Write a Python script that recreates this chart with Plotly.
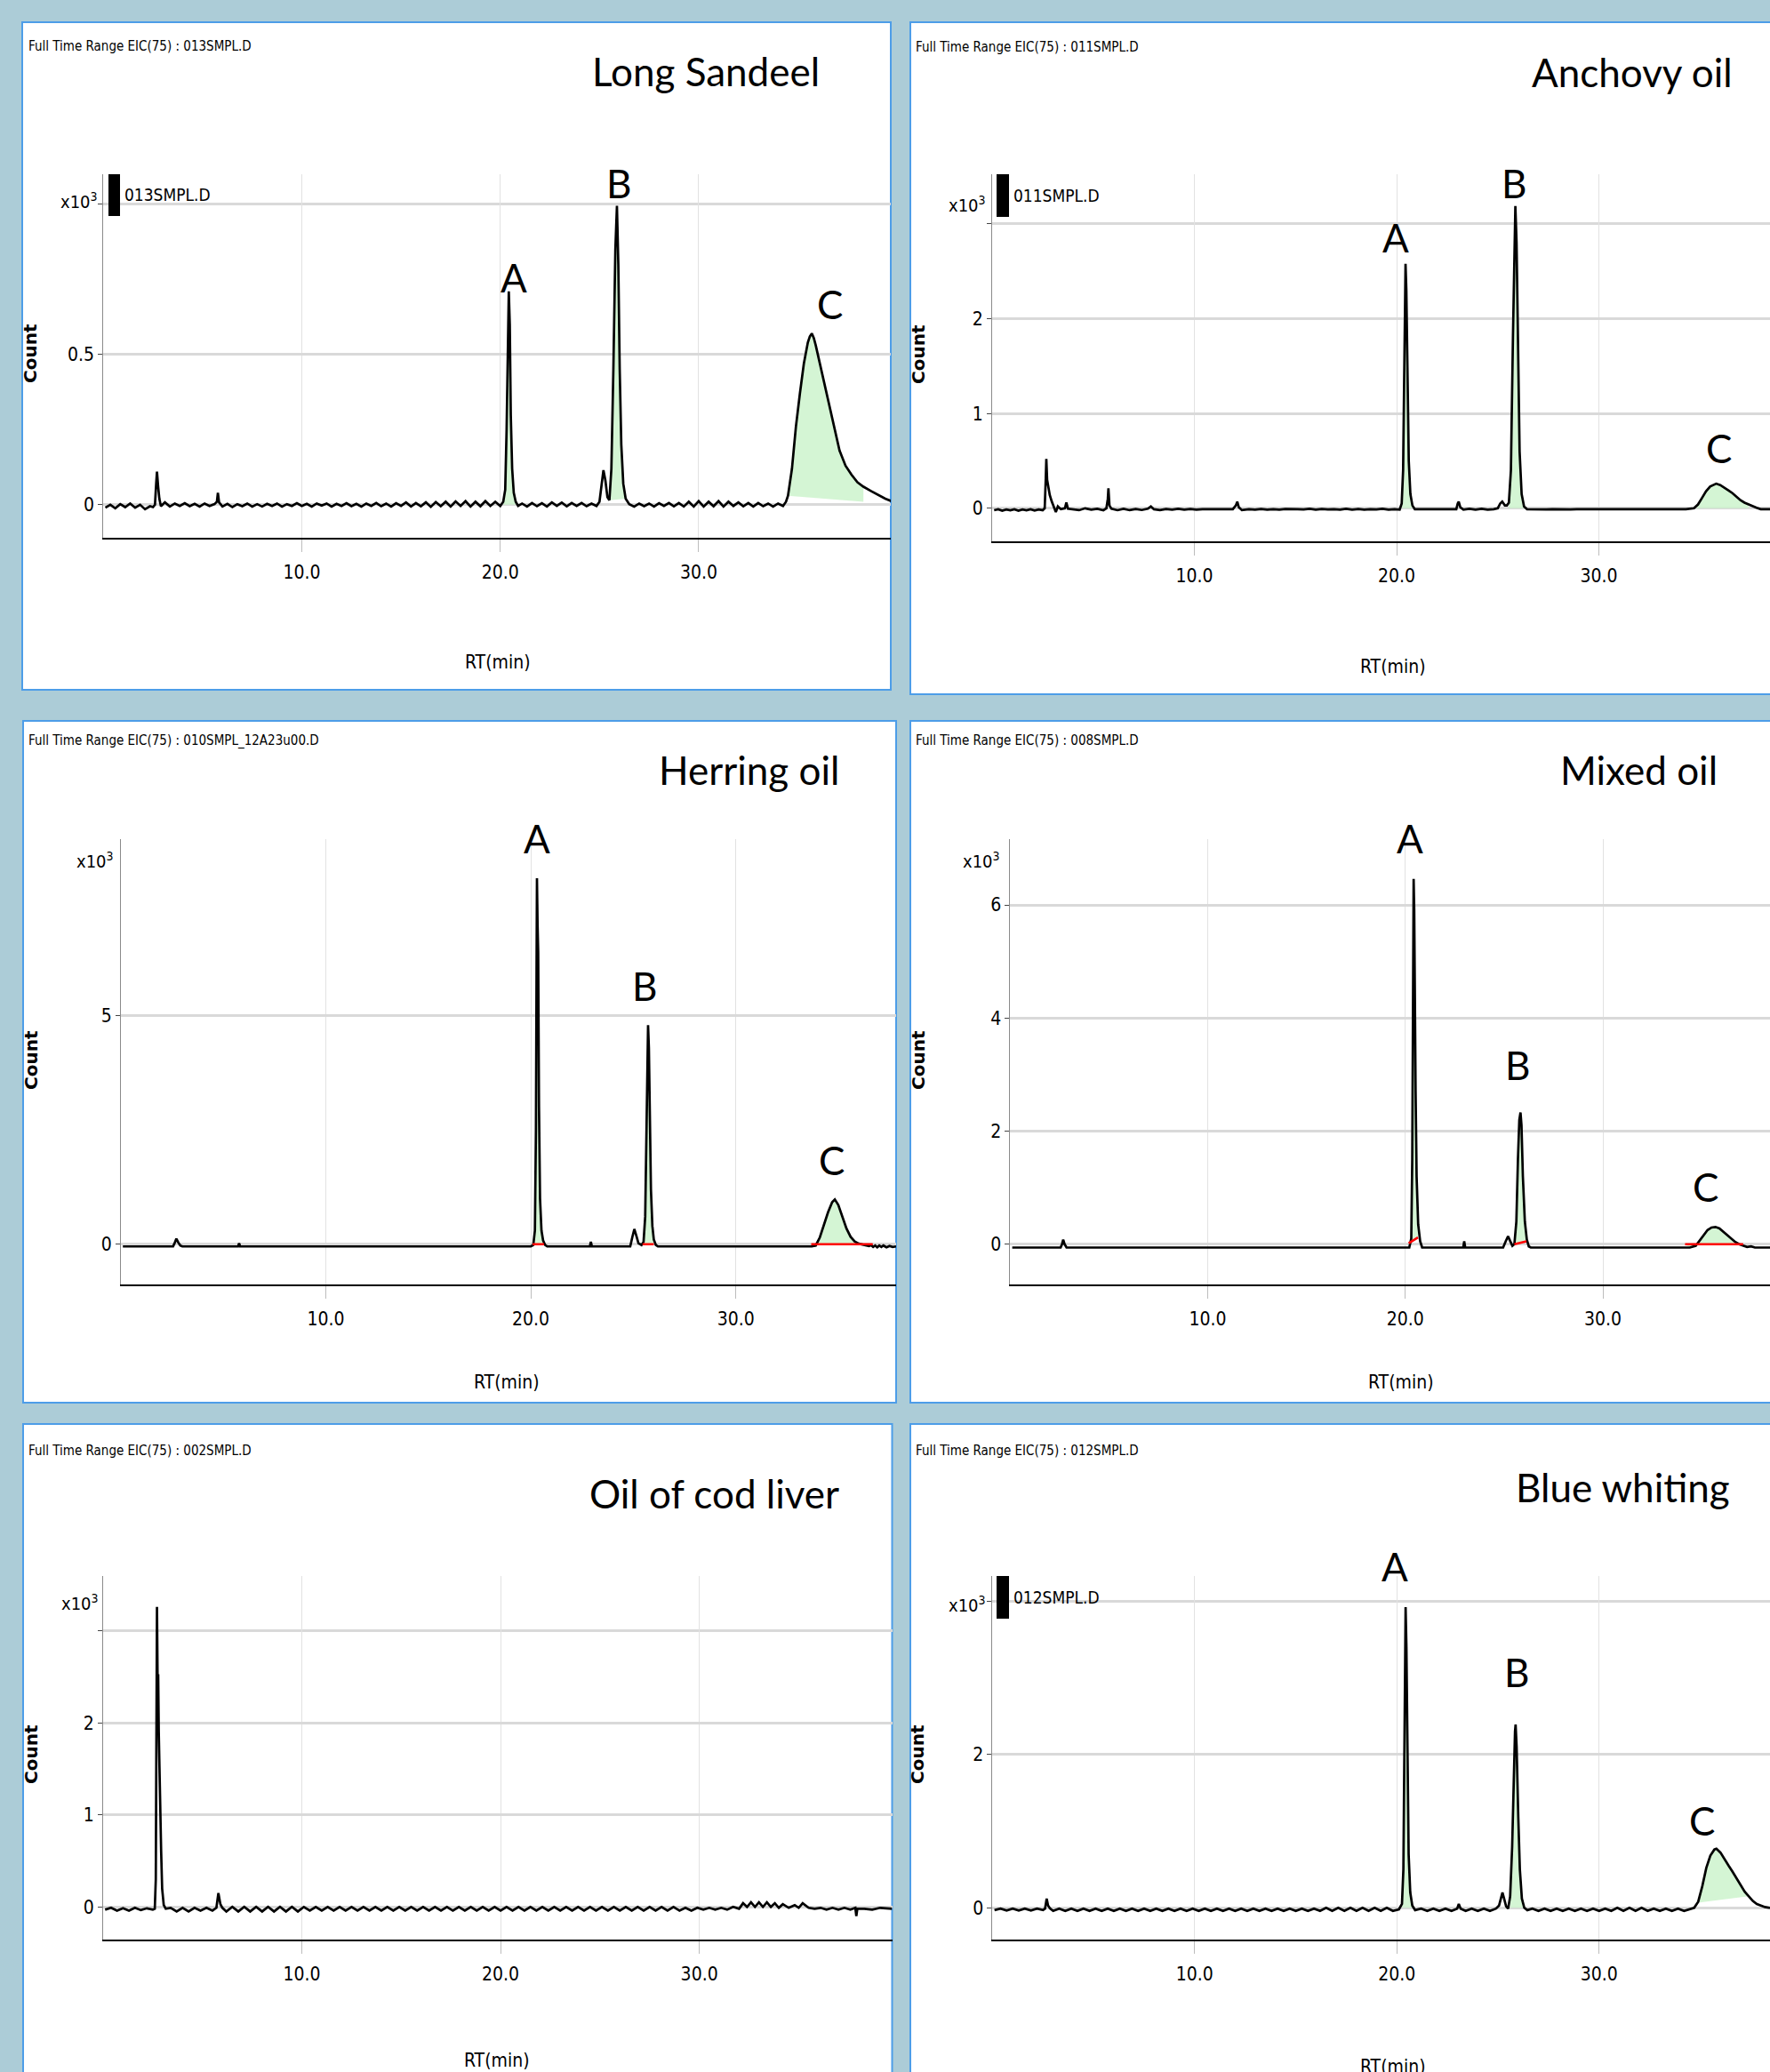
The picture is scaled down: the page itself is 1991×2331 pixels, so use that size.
import plotly.graph_objects as go

W, H = 1991, 2331

# ---------------- data (RT in min, count in x10^3) ----------------
long_sandeel = [
    (0.1,-0.01),(0.35,0.0),(0.6,-0.012),(0.85,0.002),(1.1,-0.008),(1.35,0.004),(1.6,-0.01),(1.85,0.0),(2.1,-0.015),(2.35,-0.005),(2.5,-0.008),
    (2.6,0.0),(2.66,0.07),(2.7,0.11),(2.76,0.06),(2.82,0.02),(2.9,-0.005),(3.1,0.008),(3.35,-0.006),(3.6,0.004),(3.85,-0.004),(4.1,0.005),
    (4.35,-0.005),(4.6,0.003),(4.85,-0.006),(5.1,0.004),(5.35,-0.004),(5.6,0.002),(5.72,0.01),(5.77,0.04),(5.83,0.008),(6.0,-0.006),
    (6.25,0.003),(6.5,-0.008),(6.75,0.002),(7.0,-0.005),(7.25,0.004),(7.5,-0.006),(7.75,0.002),(8.0,-0.006),(8.25,0.003),(8.5,-0.004),
    (8.75,0.004),(9.0,-0.006),(9.25,0.002),(9.5,-0.004),(9.75,0.005),(10.0,-0.004),(10.25,0.003),(10.5,-0.006),(10.75,0.004),(11.0,-0.003),
    (11.25,0.004),(11.5,-0.006),(11.75,0.003),(12.0,-0.004),(12.25,0.005),(12.5,-0.005),(12.75,0.003),(13.0,-0.006),(13.25,0.004),
    (13.5,-0.004),(13.75,0.006),(14.0,-0.005),(14.25,0.004),(14.5,-0.006),(14.75,0.005),(15.0,-0.004),(15.25,0.008),(15.5,-0.006),
    (15.75,0.006),(16.0,-0.005),(16.25,0.008),(16.5,-0.007),(16.75,0.009),(17.0,-0.005),(17.25,0.01),(17.5,-0.006),(17.75,0.011),
    (18.0,-0.004),(18.25,0.012),(18.5,-0.006),(18.75,0.01),(19.0,-0.005),(19.25,0.012),(19.5,-0.004),(19.75,0.01),(20.0,-0.004),
    (20.15,0.01),(20.25,0.05),(20.32,0.25),(20.38,0.55),(20.43,0.71),(20.48,0.6),(20.53,0.3),(20.6,0.12),(20.68,0.04),(20.78,0.01),
    (20.9,-0.004),(21.1,0.004),(21.35,-0.006),(21.6,0.006),(21.85,-0.005),(22.1,0.005),(22.35,-0.006),(22.6,0.008),(22.85,-0.004),
    (23.1,0.007),(23.35,-0.005),(23.6,0.006),(23.85,-0.004),(24.1,0.006),(24.35,-0.005),(24.6,0.004),(24.85,-0.004),
    (25.0,0.01),(25.1,0.06),(25.2,0.115),(25.3,0.08),(25.4,0.025),(25.5,0.015),(25.6,0.12),(25.7,0.45),(25.8,0.85),(25.88,0.995),
    (25.95,0.8),(26.02,0.45),(26.1,0.2),(26.2,0.07),(26.32,0.02),(26.5,0.002),(26.75,-0.006),(27.0,0.004),(27.25,-0.005),(27.5,0.004),
    (27.75,-0.006),(28.0,0.005),(28.25,-0.004),(28.5,0.006),(28.75,-0.005),(29.0,0.006),(29.25,-0.006),(29.5,0.01),(29.75,-0.006),
    (30.0,0.012),(30.25,-0.006),(30.5,0.01),(30.75,-0.005),(31.0,0.012),(31.25,-0.006),(31.5,0.01),(31.75,-0.004),(32.0,0.008),
    (32.25,-0.005),(32.5,0.006),(32.75,-0.006),(33.0,0.006),(33.25,-0.005),(33.5,0.004),(33.75,-0.006),(34.0,0.004),(34.25,-0.004),
    (34.4,0.01),(34.5,0.03),(34.7,0.12),(34.9,0.26),(35.1,0.37),(35.3,0.47),(35.5,0.54),(35.6,0.56),(35.7,0.57),(35.8,0.555),
    (35.9,0.53),(36.1,0.47),(36.3,0.41),(36.5,0.35),(36.7,0.29),(36.9,0.23),(37.1,0.18),(37.4,0.13),(37.7,0.1),(38.0,0.075),
    (38.3,0.06),(38.7,0.045),(39.1,0.03),(39.4,0.02),(39.7,0.012),
]

anchovy_oil = [
    (0.1,-0.02),(0.3,-0.01),(0.5,-0.025),(0.7,-0.012),(0.9,-0.022),(1.1,-0.01),(1.3,-0.025),(1.5,-0.012),(1.7,-0.022),(1.9,-0.01),
    (2.1,-0.024),(2.3,-0.012),(2.5,-0.02),(2.6,0.0),(2.65,0.3),(2.68,0.52),(2.72,0.3),(2.78,0.22),(2.85,0.14),(2.95,0.07),(3.05,0.02),
    (3.15,-0.04),(3.25,0.02),(3.4,-0.01),(3.6,0.0),(3.67,0.06),(3.75,-0.005),(4.0,-0.01),(4.3,-0.02),(4.6,0.0),(4.9,-0.015),(5.2,-0.005),
    (5.5,-0.02),(5.65,0.0),(5.72,0.1),(5.75,0.21),(5.8,0.03),(5.9,-0.005),(6.2,-0.02),(6.5,-0.005),(6.8,-0.02),(7.1,-0.008),(7.4,-0.018),
    (7.7,-0.005),(7.85,0.02),(8.0,-0.01),(8.3,-0.02),(8.6,-0.008),(8.9,-0.015),(9.2,-0.005),(9.5,-0.015),(9.8,-0.008),(10.1,-0.015),
    (10.4,-0.01),(10.7,-0.01),(11.0,-0.01),(11.3,-0.012),(11.6,-0.01),(11.9,-0.01),(12.05,0.03),(12.12,0.07),(12.2,0.01),(12.35,-0.02),
    (12.7,-0.01),(13.0,-0.015),(13.3,-0.008),(13.6,-0.015),(13.9,-0.01),(14.2,-0.015),(14.5,-0.008),(14.8,-0.012),(15.1,-0.01),
    (15.4,-0.012),(15.7,-0.006),(16.0,-0.015),(16.3,-0.008),(16.6,-0.012),(16.9,-0.01),(17.2,-0.015),(17.5,-0.006),(17.8,-0.015),
    (18.1,-0.008),(18.4,-0.015),(18.7,-0.01),(19.0,-0.012),(19.3,-0.006),(19.6,-0.015),(19.9,-0.01),(20.15,-0.015),
    (20.25,0.05),(20.32,0.4),(20.37,1.6),(20.41,2.45),(20.44,2.58),(20.48,2.3),(20.53,1.3),(20.6,0.5),(20.68,0.15),(20.78,0.03),
    (20.9,-0.01),(21.2,-0.01),(21.5,-0.012),(21.8,-0.008),(22.1,-0.012),(22.4,-0.01),(22.7,-0.012),(22.95,-0.01),(23.02,0.05),
    (23.07,0.07),(23.15,0.01),(23.3,-0.015),(23.6,-0.005),(23.9,-0.015),(24.2,-0.005),(24.5,-0.015),(24.8,-0.01),
    (25.0,0.0),(25.12,0.05),(25.22,0.07),(25.35,0.03),(25.45,0.03),(25.55,0.06),(25.65,0.4),(25.75,1.8),(25.82,2.9),(25.87,3.19),
    (25.93,2.8),(26.0,1.6),(26.08,0.6),(26.18,0.15),(26.3,0.02),(26.45,-0.01),(26.8,-0.012),(27.1,-0.008),(27.4,-0.012),(27.7,-0.01),
    (28.0,-0.012),(28.3,-0.008),(28.6,-0.012),(28.9,-0.01),(29.2,-0.01),(29.5,-0.01),(29.8,-0.01),(30.1,-0.01),(30.4,-0.01),
    (30.7,-0.012),(31.0,-0.008),(31.3,-0.012),(31.6,-0.01),(31.9,-0.012),(32.2,-0.01),(32.5,-0.01),(32.8,-0.01),(33.1,-0.012),
    (33.4,-0.01),(33.7,-0.01),(34.0,-0.012),(34.3,-0.01),
    (34.7,0.0),(34.9,0.04),(35.1,0.11),(35.3,0.18),(35.5,0.23),(35.7,0.255),(35.8,0.26),(36.0,0.245),(36.2,0.22),(36.4,0.19),
    (36.6,0.16),(36.8,0.12),(37.0,0.085),(37.2,0.06),(37.4,0.04),(37.6,0.02),(37.8,0.005),(38.0,-0.01),(38.2,-0.01),(38.46,-0.01),
]

herring_oil = [
    (0.1,-0.05),(2.55,-0.05),(2.62,0.02),(2.71,0.12),(2.8,0.04),(2.9,-0.03),(3.0,-0.05),(5.72,-0.05),(5.77,0.02),(5.82,-0.05),
    (20.0,-0.05),(20.12,-0.02),(20.2,0.3),(20.25,2.5),(20.28,6.0),(20.3,8.02),(20.33,7.0),(20.36,6.4),(20.4,3.0),(20.45,1.0),
    (20.52,0.3),(20.6,0.08),(20.7,-0.02),(20.8,-0.05),(22.88,-0.05),(22.93,0.05),(22.98,-0.05),(24.85,-0.05),(24.95,0.15),
    (25.05,0.33),(25.15,0.18),(25.25,0.02),(25.4,-0.02),(25.5,0.05),(25.58,0.6),(25.63,2.2),(25.68,4.0),(25.72,4.8),(25.76,4.3),
    (25.8,2.8),(25.86,1.2),(25.93,0.4),(26.0,0.1),(26.1,-0.02),(26.2,-0.05),(33.7,-0.05),(33.9,-0.03),(34.1,0.15),(34.3,0.42),
    (34.5,0.7),(34.7,0.92),(34.83,0.98),(35.0,0.86),(35.2,0.6),(35.4,0.34),(35.6,0.16),(35.8,0.06),(36.0,0.01),(36.3,-0.02),
    (36.5,-0.04),(36.6,-0.02),(36.7,-0.06),(36.8,-0.03),(36.9,-0.07),(37.0,-0.03),(37.1,-0.06),(37.2,-0.03),(37.35,-0.07),
    (37.5,-0.04),(37.65,-0.06),(37.82,-0.05),
]

mixed_oil = [
    (0.1,-0.06),(2.55,-0.06),(2.62,0.0),(2.68,0.08),(2.75,0.0),(2.85,-0.06),(20.2,-0.06),(20.3,0.1),(20.35,1.5),(20.39,5.0),
    (20.42,6.46),(20.45,5.9),(20.48,4.2),(20.52,2.7),(20.57,1.2),(20.65,0.35),(20.75,0.05),(20.85,-0.06),(22.93,-0.06),(22.98,0.05),
    (23.03,-0.06),(24.95,-0.06),(25.08,0.05),(25.2,0.14),(25.3,0.06),(25.42,-0.03),(25.52,0.0),(25.62,0.4),(25.7,1.5),(25.77,2.2),
    (25.83,2.33),(25.88,2.1),(25.95,1.2),(26.05,0.4),(26.15,0.08),(26.25,-0.04),(26.35,-0.06),(34.4,-0.06),(34.7,-0.03),(34.9,0.07),
    (35.1,0.17),(35.3,0.25),(35.5,0.295),(35.7,0.305),(35.9,0.28),(36.1,0.22),(36.3,0.15),(36.5,0.09),(36.7,0.04),(36.9,0.0),
    (37.1,-0.03),(37.3,-0.05),(37.5,-0.04),(37.7,-0.06),(38.0,-0.06),(38.46,-0.06),
]

cod_liver_oil = [
    (0.1,-0.03),(0.4,-0.01),(0.7,-0.04),(1.0,-0.015),(1.3,-0.04),(1.6,-0.01),(1.9,-0.035),(2.2,-0.015),(2.5,-0.03),(2.6,-0.02),
    (2.65,0.3),(2.68,2.0),(2.71,3.26),(2.74,2.5),(2.77,2.53),(2.8,1.9),(2.84,1.35),(2.88,1.15),(2.92,0.6),(2.97,0.2),(3.05,0.02),
    (3.15,-0.02),(3.4,-0.01),(3.7,-0.05),(4.0,-0.01),(4.3,-0.05),(4.6,-0.01),(4.9,-0.04),(5.2,-0.01),(5.5,-0.04),(5.7,-0.01),
    (5.8,0.15),(5.9,0.03),(6.0,-0.01),(6.2,-0.05),(6.5,0.0),(6.8,-0.05),(7.1,0.0),(7.4,-0.05),(7.7,0.0),(8.0,-0.05),(8.3,0.0),
    (8.6,-0.05),(8.9,0.0),(9.2,-0.05),(9.5,0.0),(9.8,-0.05),(10.1,0.0),(10.4,-0.04),(10.7,0.0),(11.0,-0.04),(11.3,0.0),(11.6,-0.04),
    (11.9,0.0),(12.2,-0.04),(12.5,0.0),(12.8,-0.04),(13.1,0.0),(13.4,-0.04),(13.7,0.0),(14.0,-0.04),(14.3,0.0),(14.6,-0.04),
    (14.9,0.0),(15.2,-0.04),(15.5,0.0),(15.8,-0.04),(16.1,0.0),(16.4,-0.04),(16.7,0.0),(17.0,-0.04),(17.3,0.0),(17.6,-0.04),
    (17.9,0.0),(18.2,-0.04),(18.5,0.0),(18.8,-0.04),(19.1,0.0),(19.4,-0.04),(19.7,0.0),(20.0,-0.04),(20.3,0.0),(20.6,-0.04),
    (20.9,0.0),(21.2,-0.04),(21.5,0.0),(21.8,-0.04),(22.1,0.0),(22.4,-0.04),(22.7,0.0),(23.0,-0.04),(23.3,0.0),(23.6,-0.04),
    (23.9,0.0),(24.2,-0.04),(24.5,0.0),(24.8,-0.04),(25.1,0.0),(25.4,-0.04),(25.7,0.0),(26.0,-0.04),(26.3,0.0),(26.6,-0.04),
    (26.9,0.0),(27.2,-0.04),(27.5,0.0),(27.8,-0.04),(28.1,0.0),(28.4,-0.04),(28.7,0.0),(29.0,-0.04),(29.3,-0.01),(29.6,-0.04),
    (29.9,-0.01),(30.2,-0.03),(30.5,-0.01),(30.8,-0.03),(31.1,-0.01),(31.4,-0.03),(31.7,0.0),(32.0,-0.02),(32.2,0.04),(32.4,0.0),
    (32.6,0.05),(32.8,0.0),(33.0,0.05),(33.2,0.0),(33.4,0.05),(33.6,0.0),(33.8,0.04),(34.0,-0.01),(34.2,0.03),(34.5,-0.01),
    (34.8,0.02),(35.0,-0.01),(35.2,0.04),(35.5,-0.01),(35.8,-0.02),(36.1,-0.01),(36.4,-0.03),(36.7,-0.01),(37.0,-0.03),(37.3,-0.01),
    (37.6,-0.03),(37.85,-0.01),(37.9,-0.1),(37.95,-0.02),(38.3,-0.02),(38.7,-0.03),(39.1,-0.01),(39.7,-0.02),
]

blue_whiting = [
    (0.1,-0.03),(0.4,-0.01),(0.7,-0.035),(1.0,-0.01),(1.3,-0.035),(1.6,-0.01),(1.9,-0.035),(2.2,-0.01),(2.5,-0.03),(2.6,-0.01),
    (2.68,0.12),(2.75,0.03),(2.85,-0.01),(3.0,-0.04),(3.3,-0.01),(3.6,-0.04),(3.9,-0.01),(4.2,-0.04),(4.5,-0.01),(4.8,-0.04),
    (5.1,-0.01),(5.4,-0.04),(5.7,-0.01),(6.0,-0.04),(6.3,-0.01),(6.6,-0.04),(6.9,-0.01),(7.2,-0.04),(7.5,-0.01),(7.8,-0.04),
    (8.1,-0.01),(8.4,-0.04),(8.7,-0.01),(9.0,-0.04),(9.3,-0.01),(9.6,-0.04),(9.9,-0.01),(10.2,-0.04),(10.5,-0.01),(10.8,-0.04),
    (11.1,-0.01),(11.4,-0.04),(11.7,-0.01),(12.0,-0.04),(12.3,-0.01),(12.6,-0.04),(12.9,-0.01),(13.2,-0.04),(13.5,-0.01),(13.8,-0.04),
    (14.1,-0.01),(14.4,-0.04),(14.7,-0.01),(15.0,-0.04),(15.3,-0.01),(15.6,-0.04),(15.9,-0.01),(16.2,-0.04),(16.5,0.0),(16.8,-0.04),
    (17.1,0.0),(17.4,-0.04),(17.7,0.0),(18.0,-0.04),(18.3,0.0),(18.6,-0.04),(18.9,0.0),(19.2,-0.04),(19.5,0.0),(19.8,-0.04),
    (20.1,-0.02),(20.25,0.05),(20.32,0.5),(20.37,2.2),(20.41,3.6),(20.43,3.92),(20.47,3.4),(20.52,1.8),(20.58,0.7),(20.66,0.2),
    (20.76,0.03),(20.9,-0.03),(21.2,-0.01),(21.5,-0.04),(21.8,-0.01),(22.1,-0.04),(22.4,-0.01),(22.7,-0.04),(22.98,-0.01),
    (23.06,0.05),(23.15,-0.01),(23.4,-0.04),(23.7,-0.01),(24.0,-0.04),(24.3,-0.01),(24.6,-0.04),(24.9,-0.01),
    (25.05,0.03),(25.15,0.12),(25.22,0.2),(25.3,0.12),(25.4,0.02),(25.5,-0.01),(25.6,0.15),(25.7,0.8),(25.78,1.8),(25.84,2.3),
    (25.87,2.39),(25.92,2.1),(26.0,1.2),(26.08,0.5),(26.18,0.12),(26.3,0.0),(26.45,-0.03),(26.7,-0.01),(27.0,-0.04),(27.3,-0.01),
    (27.6,-0.04),(27.9,-0.01),(28.2,-0.04),(28.5,-0.01),(28.8,-0.04),(29.1,-0.01),(29.4,-0.04),(29.7,-0.01),(30.0,-0.04),
    (30.3,-0.01),(30.6,-0.04),(30.9,0.0),(31.2,-0.04),(31.5,0.0),(31.8,-0.04),(32.1,0.0),(32.4,-0.04),(32.7,-0.01),(33.0,-0.04),
    (33.3,-0.01),(33.6,-0.04),(33.9,-0.01),(34.2,-0.04),(34.5,-0.02),
    (34.7,0.0),(34.9,0.08),(35.1,0.28),(35.3,0.52),(35.5,0.68),(35.7,0.76),(35.8,0.77),(36.0,0.72),(36.2,0.63),(36.4,0.55),
    (36.6,0.47),(36.8,0.38),(37.0,0.29),(37.2,0.21),(37.4,0.15),(37.6,0.09),(37.8,0.05),(38.0,0.03),(38.2,0.01),(38.45,0.0),
]

# integrated peak regions: (t_start, base_start, t_end, base_end)
ls_peaks = [(20.15, 0.0, 20.78, 0.0), (25.5, 0.015, 26.32, 0.02), (34.5, 0.03, 38.3, 0.01)]
ao_peaks = [(20.25, 0.0, 20.78, 0.0), (25.55, 0.0, 26.3, 0.0), (34.8, 0.0, 37.4, 0.0)]
ho_peaks = [(20.08, 0.0, 20.65, 0.0), (25.45, 0.0, 26.0, 0.0), (33.68, 0.0, 36.68, 0.0)]
mo_peaks = [(20.17, 0.016, 20.64, 0.12), (25.52, 0.0, 26.13, 0.05), (34.16, 0.0, 37.1, 0.0)]
bw_peaks = [(20.25, 0.0, 20.76, 0.0), (25.6, 0.0, 26.3, 0.0), (34.8, 0.065, 37.4, 0.15)]

x_tick_vals = [10, 20, 30]
x_tick_text = ["10.0", "20.0", "30.0"]

NARROW = "Liberation Sans Narrow, DejaVu Sans Condensed, Arial Narrow, Roboto, sans-serif"
TITLE_F = "Lato, Calibri, Open Sans, sans-serif"
BG = "#acccd7"

panels = [
    dict(data=long_sandeel, peaks=ls_peaks, red=False,
         frame=(25, 25, 1002, 776), xdom=(116.3, 1002), ydom=(196, 605), xr=(0, 39.68), yr=(-0.11, 1.10),
         yt=[0, 0.5], ytt=["0", "0.5"], ytop=1,
         header=("Full Time Range EIC(75) : 013SMPL.D", 30, 52),
         title=("Long Sandeel", 793.5, 80), labels=[("A", 578, 312), ("B", 696, 206), ("C", 933, 342)],
         x10=(112, 226), count=(34, 398), rt=(560, 745), legend=("013SMPL.D", 122, 196, 135, 243)),
    dict(data=anchovy_oil, peaks=ao_peaks, red=False,
         frame=(1024, 25, 2000, 781), xdom=(1116, 1991), ydom=(196, 608.6), xr=(0, 38.46), yr=(-0.345, 3.525),
         yt=[0, 1, 2], ytt=["0", "1", "2"], ytop=3,
         header=("Full Time Range EIC(75) : 011SMPL.D", 1027.5, 53),
         title=("Anchovy oil", 1836, 80.6), labels=[("A", 1570, 267), ("B", 1703, 206), ("C", 1933, 504)],
         x10=(1111, 230), count=(1033, 399), rt=(1567, 750), legend=("011SMPL.D", 1121, 196, 1135, 244)),
    dict(data=herring_oil, peaks=ho_peaks, red=True,
         frame=(26, 811, 1008, 1578), xdom=(135.9, 1008), ydom=(944, 1444.6), xr=(0, 37.82), yr=(-0.875, 8.876),
         yt=[0, 5], ytt=["0", "5"], ytop=None,
         header=("Full Time Range EIC(75) : 010SMPL_12A23u00.D", 29.6, 833),
         title=("Herring oil", 842.5, 866.5), labels=[("A", 603.5, 943), ("B", 724.6, 1109), ("C", 935.3, 1305)],
         x10=(130, 968), count=(35, 1193), rt=(570, 1555), legend=None),
    dict(data=mixed_oil, peaks=mo_peaks, red=True,
         frame=(1024, 811, 2000, 1578), xdom=(1136.4, 1991), ydom=(944, 1444.6), xr=(0, 38.46), yr=(-0.706, 7.165),
         yt=[0, 2, 4, 6], ytt=["0", "2", "4", "6"], ytop=None,
         header=("Full Time Range EIC(75) : 008SMPL.D", 1027.5, 833),
         title=("Mixed oil", 1843, 866.5), labels=[("A", 1585.7, 943), ("B", 1706.5, 1198), ("C", 1918.6, 1335)],
         x10=(1127, 968), count=(1033, 1193), rt=(1576, 1555), legend=None),
    dict(data=cod_liver_oil, peaks=[], red=False,
         frame=(26, 1602, 1003.5, 2345), xdom=(116, 1003.5), ydom=(1773.4, 2181.7), xr=(0, 39.7), yr=(-0.352, 3.593),
         yt=[0, 1, 2], ytt=["0", "1", "2"], ytop=3,
         header=("Full Time Range EIC(75) : 002SMPL.D", 29.6, 1631.6),
         title=("Oil of cod liver", 803, 1680), labels=[],
         x10=(113, 1803), count=(35, 1974), rt=(559, 2318), legend=None),
    dict(data=blue_whiting, peaks=bw_peaks, red=False,
         frame=(1024, 1602, 2000, 2345), xdom=(1116.4, 1991), ydom=(1773.4, 2181.7), xr=(0, 38.45), yr=(-0.41, 4.32),
         yt=[0, 2], ytt=["0", "2"], ytop=4,
         header=("Full Time Range EIC(75) : 012SMPL.D", 1027.5, 1631.6),
         title=("Blue whiting", 1825.7, 1672.7), labels=[("A", 1569, 1762), ("B", 1706, 1881), ("C", 1914, 2048)],
         x10=(1111, 1805), count=(1032, 1974), rt=(1567, 2325), legend=("012SMPL.D", 1121, 1773, 1135, 1821)),
]


def px(x):
    return x / W


def py(y):
    return 1 - y / H


fig = go.Figure()
shapes = []
annotations = []
layout_axes = {}

for i, p in enumerate(panels, start=1):
    xa = "x" if i == 1 else f"x{i}"
    ya = "y" if i == 1 else f"y{i}"
    xkey = "xaxis" if i == 1 else f"xaxis{i}"
    ykey = "yaxis" if i == 1 else f"yaxis{i}"
    ts = [t for t, _ in p["data"]]
    cs = [c for _, c in p["data"]]

    # green integrated areas
    for (t0, b0, t1, b1) in p["peaks"]:
        seg = [(t, c) for t, c in p["data"] if t0 <= t <= t1]
        fx = [t0] + [t for t, _ in seg] + [t1]
        fy = [b0] + [c for _, c in seg] + [b1]
        fig.add_trace(go.Scatter(x=fx, y=fy, xaxis=xa, yaxis=ya, mode="lines", fill="toself",
                                 fillcolor="rgba(205,243,205,0.85)", line=dict(width=0),
                                 hoverinfo="skip", showlegend=False))
    # chromatogram
    fig.add_trace(go.Scatter(x=ts, y=cs, xaxis=xa, yaxis=ya, mode="lines",
                             line=dict(color="black", width=2.7), showlegend=False))
    # red baselines
    if p["red"]:
        for (t0, b0, t1, b1) in p["peaks"]:
            fig.add_trace(go.Scatter(x=[t0, t1], y=[b0, b1], xaxis=xa, yaxis=ya, mode="lines",
                                     line=dict(color="red", width=2.6), showlegend=False, hoverinfo="skip"))

    layout_axes[xkey] = dict(
        domain=[px(p["xdom"][0]), px(p["xdom"][1])], anchor=ya, range=list(p["xr"]),
        tickvals=x_tick_vals, ticktext=x_tick_text, ticks="outside", ticklen=14, tickcolor="#bdbdbd",
        showgrid=True, gridcolor="#e2e2e2", gridwidth=1, zeroline=False,
        showline=True, linecolor="black", linewidth=2, ticklabelstandoff=5,
        tickfont=dict(family=NARROW, size=21, color="black"),
    )
    yax = dict(
        domain=[py(p["ydom"][1]), py(p["ydom"][0])], anchor=xa, range=list(p["yr"]),
        tickvals=p["yt"], ticktext=p["ytt"], ticks="outside", ticklen=5, tickcolor="#444",
        showgrid=True, gridcolor="#d9d9d9", gridwidth=3, zeroline=False,
        showline=True, linecolor="#8a8a8a", linewidth=1,
        tickfont=dict(family=NARROW, size=21, color="black"),
    )
    if p["ytop"] is not None:
        # unlabeled top tick with its grid line
        yax["minor"] = dict(tickvals=[p["ytop"]], ticks="outside", ticklen=5, tickcolor="#444",
                            showgrid=True, gridcolor="#d9d9d9", gridwidth=3)
    layout_axes[ykey] = yax

    fx0, fy0, fx1, fy1 = p["frame"]
    shapes.append(dict(type="rect", xref="paper", yref="paper", x0=px(fx0), x1=px(fx1), y0=py(fy1), y1=py(fy0),
                       fillcolor="white", line=dict(color="#4d9de8", width=2), layer="below"))

    txt, hx, hy = p["header"]
    annotations.append(dict(text=txt, x=px(hx), y=py(hy), xref="paper", yref="paper", xanchor="left",
                            yanchor="middle", showarrow=False, font=dict(family=NARROW, size=15, color="black")))
    txt, tx, ty = p["title"]
    annotations.append(dict(text=txt, x=px(tx), y=py(ty), xref="paper", yref="paper", xanchor="center",
                            yanchor="middle", showarrow=False, font=dict(family=TITLE_F, size=44, color="black")))
    for lab, lx, ly in p["labels"]:
        annotations.append(dict(text=lab, x=px(lx), y=py(ly), xref="paper", yref="paper", xanchor="center",
                                yanchor="middle", showarrow=False, font=dict(family=TITLE_F, size=44, color="black")))
    annotations.append(dict(text="x10<sup>3</sup>", x=px(p["x10"][0]), y=py(p["x10"][1]), xref="paper", yref="paper",
                            xanchor="right", yanchor="middle", showarrow=False,
                            font=dict(family=NARROW, size=20, color="black")))
    annotations.append(dict(text="<b>Count</b>", x=px(p["count"][0]), y=py(p["count"][1]), xref="paper", yref="paper",
                            xanchor="center", yanchor="middle", textangle=-90, showarrow=False,
                            font=dict(family="DejaVu Sans, sans-serif", size=20, color="black")))
    annotations.append(dict(text="RT(min)", x=px(p["rt"][0]), y=py(p["rt"][1]), xref="paper", yref="paper",
                            xanchor="center", yanchor="middle", showarrow=False,
                            font=dict(family=NARROW, size=21, color="black")))
    if p["legend"]:
        name, lx0, ly0, lx1, ly1 = p["legend"]
        shapes.append(dict(type="rect", xref="paper", yref="paper", x0=px(lx0), x1=px(lx1), y0=py(ly1), y1=py(ly0),
                           fillcolor="black", line=dict(width=0), layer="above"))
        annotations.append(dict(text=name, x=px(lx1 + 3), y=py((ly0 + ly1) / 2), xref="paper", yref="paper",
                                xanchor="left", yanchor="middle", showarrow=False,
                                font=dict(family=NARROW, size=19, color="black")))

fig.update_layout(
    width=W, height=H, margin=dict(l=0, r=0, t=0, b=0),
    paper_bgcolor=BG, plot_bgcolor="rgba(0,0,0,0)",
    shapes=shapes, annotations=annotations, showlegend=False,
    **layout_axes,
)

fig.write_html(
    "out.html",
    config={"displayModeBar": False},
    post_script=("document.body.style.margin='0';document.body.style.padding='0';"
                 "document.body.style.background='" + BG + "';document.body.style.overflow='hidden';"),
)
